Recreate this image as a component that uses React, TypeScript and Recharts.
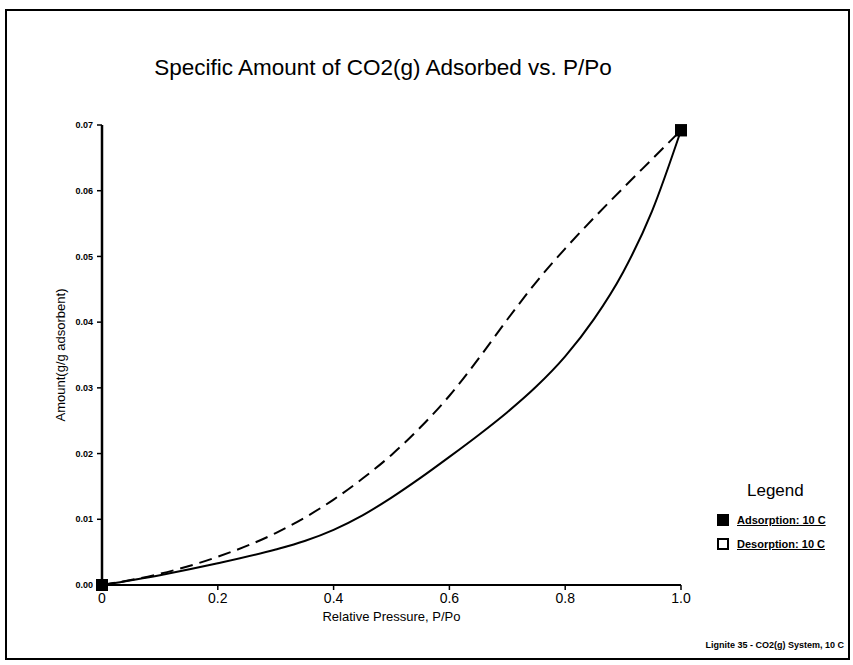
import { LineChart, Line, XAxis, YAxis } from "recharts";

const adsorptionP = [0, 0.1, 0.2, 0.3, 0.35, 0.4, 0.45, 0.5, 0.55, 0.6, 0.65, 0.7, 0.75, 0.8, 0.85, 0.9, 0.95, 1.0];
const adsorptionAmt = [0, 0.0015, 0.0033, 0.0054, 0.0067, 0.0084, 0.0106, 0.0133, 0.0163, 0.0195, 0.0228, 0.0263, 0.0302, 0.0348, 0.0405, 0.0476, 0.0569, 0.0692];

const desorptionP = [0, 0.1, 0.2, 0.3, 0.4, 0.45, 0.5, 0.55, 0.6, 0.65, 0.7, 0.75, 0.8, 0.85, 0.9, 0.95, 1.0];
const desorptionAmt = [0, 0.0017, 0.0043, 0.0079, 0.013, 0.0162, 0.0198, 0.024, 0.0288, 0.0344, 0.0404, 0.0461, 0.0512, 0.0559, 0.0604, 0.0648, 0.0692];

const xTicks = [0, 0.2, 0.4, 0.6, 0.8, 1.0];
const yTicks = [0, 0.01, 0.02, 0.03, 0.04, 0.05, 0.06, 0.07];

const legendItems = [
  { label: "Adsorption: 10 C", filled: true },
  { label: "Desorption: 10 C", filled: false },
];

const adsorption = adsorptionP.map((p, i) => ({ p, amt: adsorptionAmt[i] }));
const desorption = desorptionP.map((p, i) => ({ p, amt: desorptionAmt[i] }));

const FONT = "'Liberation Sans', Arial, sans-serif";

function endDot(filled: boolean, last: number) {
  return (props: any) => {
    const { cx, cy, index } = props;
    if (index !== 0 && index !== last) return <g key={index} />;
    return (
      <rect
        key={index}
        x={cx - 5}
        y={cy - 5}
        width={10}
        height={10}
        fill={filled ? "#000" : "#fff"}
        stroke="#000"
        strokeWidth={2}
      />
    );
  };
}

function LegendBox() {
  return (
    <div style={{ position: "absolute", left: 717, top: 481, width: 130, fontFamily: FONT, color: "#000" }}>
      <div style={{ fontSize: 17, marginLeft: 30, marginBottom: 7 }}>Legend</div>
      {legendItems.map((it) => (
        <div key={it.label} style={{ display: "flex", alignItems: "center", height: 24 }}>
          <span
            style={{
              display: "inline-block",
              width: 8,
              height: 8,
              border: "2px solid #000",
              background: it.filled ? "#000" : "#fff",
              marginRight: 8,
            }}
          />
          <span style={{ fontSize: 11, fontWeight: 700, textDecoration: "underline" }}>{it.label}</span>
        </div>
      ))}
    </div>
  );
}

export default function App() {
  return (
    <div style={{ position: "relative", width: 853, height: 665, background: "#fff" }}>
      <style>{"body{margin:0}"}</style>
      <div
        style={{
          position: "absolute",
          left: 5,
          top: 9,
          width: 841,
          height: 647,
          border: "2px solid #000",
        }}
      />
      <div
        style={{
          position: "absolute",
          left: 0,
          width: 766,
          top: 55,
          textAlign: "center",
          fontFamily: FONT,
          fontSize: 22.5,
        }}
      >
        Specific Amount of CO2(g) Adsorbed vs. P/Po
      </div>
      <div
        style={{
          position: "absolute",
          right: 9,
          top: 640,
          fontFamily: FONT,
          fontSize: 9,
          fontWeight: 700,
        }}
      >
        Lignite 35 - CO2(g) System, 10 C
      </div>
      <div style={{ position: "absolute", left: 0, top: 0 }}>
        <LineChart width={853} height={665} margin={{ top: 125, right: 172, bottom: 0, left: 0 }}>
          <XAxis
            type="number"
            dataKey="p"
            domain={[0, 1]}
            ticks={xTicks}
            tickFormatter={(v: number) => (v === 0 ? "0" : v.toFixed(1))}
            height={80}
            axisLine={{ stroke: "#000", strokeWidth: 2 }}
            tickLine={{ stroke: "#000", strokeWidth: 1.5 }}
            tickSize={5}
            tickMargin={3}
            tick={{ fontSize: 14, fill: "#000", fontFamily: FONT }}
            label={{
              value: "Relative Pressure, P/Po",
              position: "insideTop",
              offset: 27,
              style: { fontSize: 13, fill: "#000", fontFamily: FONT },
            }}
            allowDuplicatedCategory={false}
          />
          <YAxis
            type="number"
            dataKey="amt"
            domain={[0, 0.07]}
            ticks={yTicks}
            tickFormatter={(v: number) => v.toFixed(2)}
            width={102}
            axisLine={{ stroke: "#000", strokeWidth: 2.5 }}
            tickLine={{ stroke: "#000", strokeWidth: 1.5 }}
            tickSize={5}
            tickMargin={4}
            tick={{ fontSize: 9, fontWeight: 700, fill: "#000", fontFamily: FONT }}
            label={{
              value: "Amount(g/g adsorbent)",
              angle: -90,
              position: "insideLeft",
              offset: 60,
              style: { fontSize: 13, fill: "#000", fontFamily: FONT, textAnchor: "middle" },
            }}
          />
          <Line
            data={desorption}
            dataKey="amt"
            type="monotone"
            stroke="#000"
            strokeWidth={2}
            strokeDasharray="13 7"
            dot={endDot(false, desorption.length - 1)}
            activeDot={false}
            isAnimationActive={false}
            legendType="none"
          />
          <Line
            data={adsorption}
            dataKey="amt"
            type="monotone"
            stroke="#000"
            strokeWidth={2}
            dot={endDot(true, adsorption.length - 1)}
            activeDot={false}
            isAnimationActive={false}
            legendType="none"
          />
        </LineChart>
      </div>
      <LegendBox />
    </div>
  );
}
